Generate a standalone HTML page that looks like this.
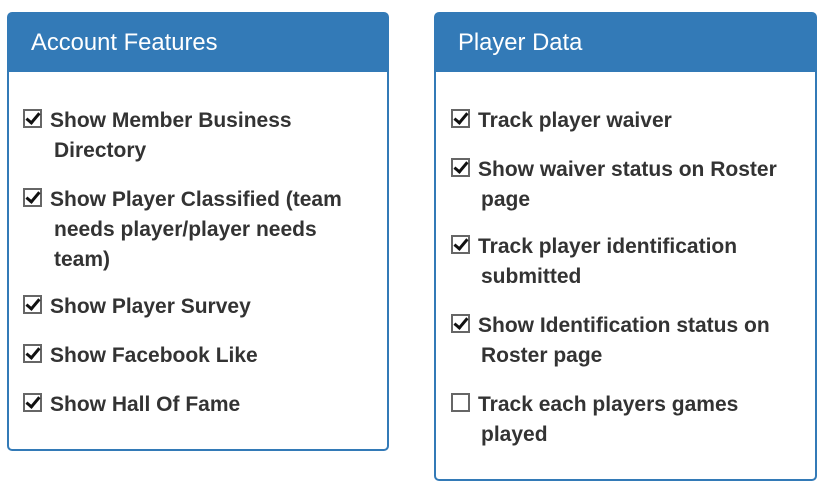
<!DOCTYPE html>
<html><head><meta charset="utf-8"><style>
body{margin:0;width:839px;height:495px;background:#fff;position:relative;font-family:"Liberation Sans",Arial,sans-serif;overflow:hidden}
.p{position:absolute;border:2px solid #337ab7;border-radius:5px;box-sizing:border-box;background:#fff}
.h{position:absolute;left:0;right:0;top:0;height:58px;background:#337ab7;color:#fff;font-size:23.8px;line-height:58px;padding-left:22px}
.t{position:absolute;font-size:21px;font-weight:bold;color:#333;line-height:30px;white-space:nowrap}
.c{position:absolute;width:15px;height:15px;border:2px solid #666;background:#fff}
.c::after{content:"";position:absolute;left:4px;top:-1px;width:5px;height:11px;border:solid #111;border-width:0 3px 3px 0;transform:rotate(40deg)}
.u::after{display:none}
</style></head><body>
<div class="p" style="left:7px;top:12px;width:382px;height:439px"><div class="h">Account Features</div></div>
<div class="p" style="left:434px;top:12px;width:383px;height:469px"><div class="h">Player Data</div></div>

<div class="c" style="left:23px;top:109px"></div><div class="t" style="left:50px;top:106px">Show Member Business</div><div class="t" style="left:54px;top:136px">Directory</div>
<div class="c" style="left:23px;top:188px"></div><div class="t" style="left:50px;top:185px">Show Player Classified (team</div><div class="t" style="left:54px;top:215px">needs player/player needs</div><div class="t" style="left:54px;top:245px">team)</div>
<div class="c" style="left:23px;top:295px"></div><div class="t" style="left:50px;top:292px">Show Player Survey</div>
<div class="c" style="left:23px;top:344px"></div><div class="t" style="left:50px;top:341px">Show Facebook Like</div>
<div class="c" style="left:23px;top:393px"></div><div class="t" style="left:50px;top:390px">Show Hall Of Fame</div>

<div class="c" style="left:451px;top:109px"></div><div class="t" style="left:478px;top:106px">Track player waiver</div>
<div class="c" style="left:451px;top:158px"></div><div class="t" style="left:478px;top:155px">Show waiver status on Roster</div><div class="t" style="left:481px;top:185px">page</div>
<div class="c" style="left:451px;top:235px"></div><div class="t" style="left:478px;top:232px">Track player identification</div><div class="t" style="left:481px;top:262px">submitted</div>
<div class="c" style="left:451px;top:314px"></div><div class="t" style="left:478px;top:311px">Show Identification status on</div><div class="t" style="left:481px;top:341px">Roster page</div>
<div class="c u" style="left:451px;top:393px"></div><div class="t" style="left:478px;top:390px">Track each players games</div><div class="t" style="left:481px;top:420px">played</div>
</body></html>
